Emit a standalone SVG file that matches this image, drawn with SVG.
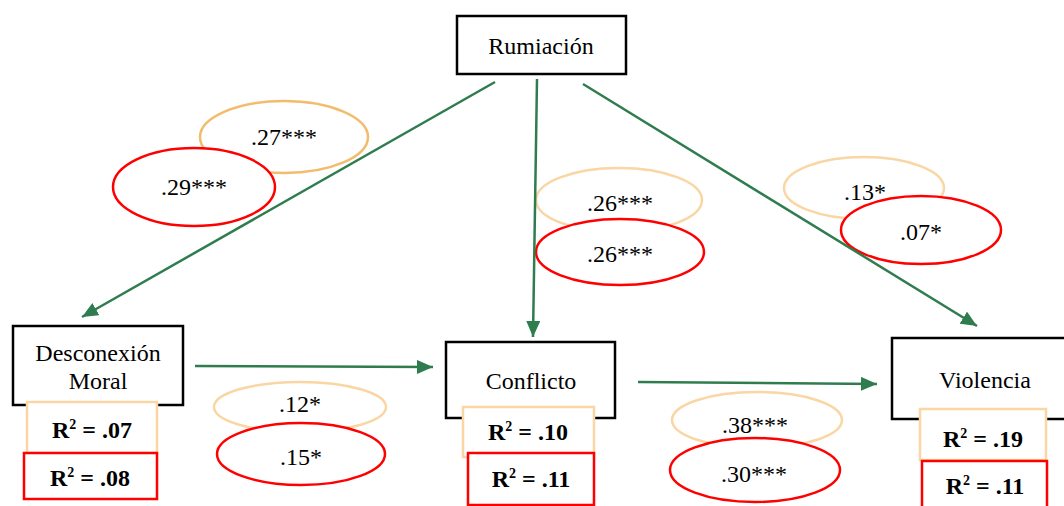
<svg xmlns="http://www.w3.org/2000/svg" width="1064" height="506" viewBox="0 0 1064 506">
<style>
text{font-family:'Liberation Serif','DejaVu Serif',serif}
.box{fill:#fff;stroke:#000;stroke-width:2.5}
.lbl{font-size:24px;fill:#000;text-anchor:middle}
.r2{font-size:24px;font-weight:bold;fill:#000;text-anchor:middle}
.ro{fill:#fff;stroke:#F9D6A3;stroke-width:2.5}
.rr{fill:#fff;stroke:#FF0000;stroke-width:2.5}
.eo{fill:#fff;stroke:#F9D6A3;stroke-width:2.5}
.eo2{fill:#fff;stroke:#F3BC6C;stroke-width:2.5}
.er{fill:#fff;stroke:#FF0000;stroke-width:2.5}
.conn{stroke:#2F7D4E;stroke-width:2.5;fill:none;marker-end:url(#arr)}
</style>
<defs>
<marker id="arr" markerUnits="userSpaceOnUse" markerWidth="18" markerHeight="14" refX="16" refY="7" orient="auto">
<path d="M0,0 L16,7 L0,14 Z" fill="#2F7D4E"/>
</marker>
</defs>
<rect width="1064" height="506" fill="#fff"/>

<g id="labels">
<ellipse class="eo2" cx="284" cy="137" rx="84" ry="36"/>
<text class="lbl" x="284" y="145">.27***</text>
<ellipse class="er" cx="194" cy="187" rx="81" ry="39"/>
<text class="lbl" x="194" y="195">.29***</text>
<ellipse class="eo" cx="619" cy="200" rx="83" ry="32"/>
<text class="lbl" x="620" y="211">.26***</text>
<ellipse class="er" cx="620" cy="252" rx="84" ry="33"/>
<text class="lbl" x="620" y="262">.26***</text>
<ellipse class="eo" cx="864" cy="188" rx="80" ry="31"/>
<text class="lbl" x="865" y="200">.13*</text>
<ellipse class="er" cx="921" cy="230" rx="80" ry="34"/>
<text class="lbl" x="921" y="240">.07*</text>
<ellipse class="eo" cx="300" cy="407" rx="86" ry="25"/>
<text class="lbl" x="300" y="412">.12*</text>
<ellipse class="er" cx="301" cy="454" rx="84" ry="31"/>
<text class="lbl" x="301" y="465">.15*</text>
<ellipse class="eo" cx="757" cy="420" rx="85" ry="28"/>
<text class="lbl" x="755" y="433">.38***</text>
<ellipse class="er" cx="755" cy="470" rx="85" ry="32"/>
<text class="lbl" x="754" y="482">.30***</text>
</g>

<g id="connectors">
<line class="conn" x1="495" y1="82" x2="82" y2="317"/>
<line class="conn" x1="537" y1="79" x2="533" y2="337"/>
<line class="conn" x1="583" y1="84" x2="977" y2="326"/>
<line class="conn" x1="195" y1="366" x2="433" y2="367"/>
<line class="conn" x1="638" y1="382" x2="877" y2="384"/>
</g>

<g id="rumiacion">
<rect class="box" x="457" y="16" width="169" height="58"/>
<text class="lbl" x="541" y="54">Rumiación</text>
</g>

<g id="desconexion">
<rect class="box" x="13" y="326" width="170" height="79"/>
<text class="lbl" x="98" y="361">Desconexión</text>
<text class="lbl" x="98" y="389">Moral</text>
<rect class="ro" x="27" y="402" width="130" height="51"/>
<text class="r2" x="92" y="438">R<tspan font-size="14" dy="-9">2</tspan><tspan dy="9"> = .07</tspan></text>
<rect class="rr" x="24" y="453" width="133" height="46"/>
<text class="r2" x="90" y="486">R<tspan font-size="14" dy="-9">2</tspan><tspan dy="9"> = .08</tspan></text>
</g>

<g id="conflicto">
<rect class="box" x="446" y="342" width="169" height="76"/>
<text class="lbl" x="531" y="389">Conflicto</text>
<rect class="ro" x="463" y="407" width="131" height="50"/>
<text class="r2" x="528" y="440">R<tspan font-size="14" dy="-9">2</tspan><tspan dy="9"> = .10</tspan></text>
<rect class="rr" x="468" y="453" width="126" height="52"/>
<text class="r2" x="531" y="487">R<tspan font-size="14" dy="-9">2</tspan><tspan dy="9"> = .11</tspan></text>
</g>

<g id="violencia">
<rect class="box" x="892" y="338" width="180" height="81"/>
<text class="lbl" x="985" y="388">Violencia</text>
<rect class="ro" x="920" y="409" width="126" height="51"/>
<text class="r2" x="983" y="447">R<tspan font-size="14" dy="-9">2</tspan><tspan dy="9"> = .19</tspan></text>
<rect class="rr" x="922" y="461" width="125" height="50"/>
<text class="r2" x="985" y="494">R<tspan font-size="14" dy="-9">2</tspan><tspan dy="9"> = .11</tspan></text>
</g>
</svg>
